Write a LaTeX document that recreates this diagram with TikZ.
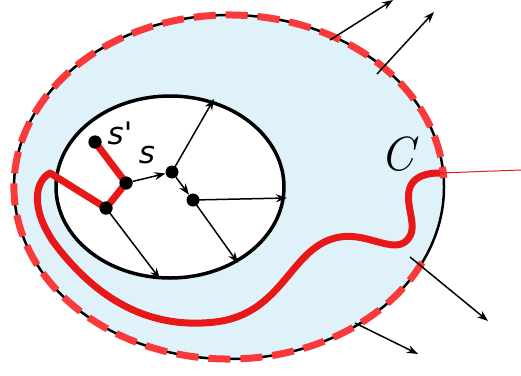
\documentclass[tikz,border=0pt]{standalone}
\usepackage{fontspec}
\newfontfamily\labelfont{DejaVu Sans}
\usepackage{tikz}
\usetikzlibrary{arrows.meta}
\definecolor{pathred}{RGB}{232,24,24}
\definecolor{dashred}{RGB}{250,58,58}
\definecolor{regionblue}{RGB}{224,242,249}
\tikzset{
  dot/.style={circle,fill=black,inner sep=0pt,minimum size=13pt},
  flow/.style={-{Stealth[length=11pt,width=8pt]},line width=1.5pt},
  redpath/.style={pathred,line width=7pt,line join=round},
  statelabel/.style={font=\labelfont\itshape\fontsize{31}{31}\selectfont,inner sep=0pt}
}

\begin{document}
\begin{tikzpicture}[x=1pt,y=-1pt]
  \useasboundingbox (0,0) rectangle (521,375);
  % Outer region C
  \draw[line width=2.5pt,fill=regionblue] (229,187) ellipse[x radius=215,y radius=172];
  \draw[dashred,line width=7pt,dash pattern=on 22pt off 10pt] (422.2,262.4) arc[start angle=26,end angle=357,x radius=215,y radius=172];
  % Inner region
  \draw[line width=3.5pt,fill=white] (170,187) ellipse[x radius=114,y radius=91];
  % States
  \node[dot] (sp) at (95,142) {};
  \node[dot] (s) at (126,183) {};
  \node[dot] (a) at (172,172) {};
  \node[dot] (b) at (193,200) {};
  \node[dot] (c) at (106,208) {};
  \coordinate (bend) at (50,173);
  \coordinate (exit) at (440,173);
  % Red trajectory
  \draw[redpath] (sp.center) -- (s.center) -- (c.center) -- (bend)
    .. controls (32,183) and (32,215) .. (58,248)
    .. controls (95,295) and (145,330) .. (215,322)
    .. controls (285,314) and (290,245) .. (340,237)
    .. controls (370,232) and (398,258) .. (410,236)
    .. controls (418,222) and (400,196) .. (414,181)
    .. controls (421,174) and (432,173) .. (exit);
  \draw[pathred,line width=1pt] (exit) -- (521,170);
  \node[dot] at (sp) {};
  \node[dot] at (s) {};
  \node[dot] at (c) {};
  % Transitions
  \coordinate (t1) at (214,99);
  \coordinate (t2) at (287,198);
  \coordinate (t3) at (238,263);
  \coordinate (t4) at (160,279);
  \draw[flow] (s) -- (a);
  \draw[flow] (a) -- (b);
  \draw[flow] (a.center) -- (t1);
  \draw[flow] (b.center) -- (t2);
  \draw[flow] (b.center) -- (t3);
  \draw[flow] (c.center) -- (t4);
  % Outgoing arrows
  \coordinate (o1) at (330,40);   \coordinate (p1) at (393,0);
  \coordinate (o2) at (377,74);   \coordinate (p2) at (434,12);
  \coordinate (o3) at (410,257);  \coordinate (p3) at (488,321);
  \coordinate (o4) at (355,323);  \coordinate (p4) at (418,354);
  \foreach \i in {1,...,4}
    \draw[flow] (o\i) -- (p\i);
  % Labels
  \node[statelabel] (lsp) at (120,133) {s'};
  \node[statelabel] (ls) at (147,155) {s};
  \node[font=\fontsize{48}{48}\selectfont\itshape,inner sep=0pt] (lc) at (397,154) {C};
\end{tikzpicture}
\end{document}
